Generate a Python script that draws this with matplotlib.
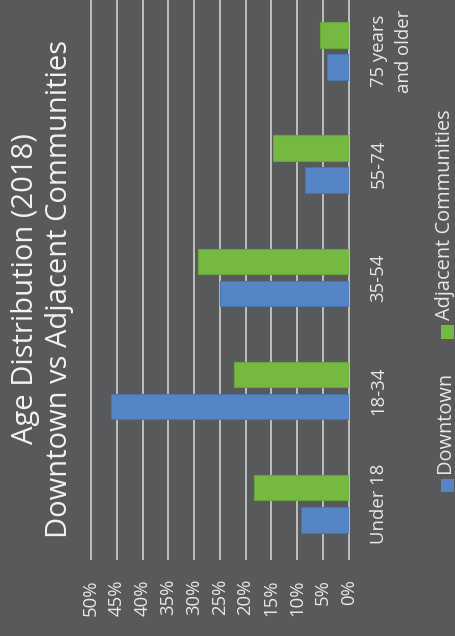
import matplotlib

matplotlib.use("Agg")
import matplotlib.pyplot as plt
import numpy as np
from matplotlib.patches import Rectangle

CATEGORIES = ["Under 18", "18-34", "35-54", "55-74", "75 years\nand older"]
DOWNTOWN = [9.2, 46.1, 25.0, 8.5, 4.2]
ADJACENT = [18.3, 22.3, 29.3, 14.6, 5.5]
SERIES_NAMES = ["Downtown", "Adjacent Communities"]
TICKS = list(range(0, 51, 5))
TITLE = "Age Distribution (2018)\nDowntown vs Adjacent Communities"

BG = "#58595b"
BLUE = "#5585c5"
GREEN = "#76b942"
GRID = "#d9d9d9"
TEXT = "#e8e8e8"

plt.rcParams["font.family"] = ["Open Sans", "DejaVu Sans"]

W, H = 456, 636


def fx(px):
    return px / W


def fy(py):
    # pixel from top -> figure fraction
    return (H - py) / H


fig = plt.figure(figsize=(W / 100, H / 100), dpi=100, facecolor=BG)
# the chart is drawn rotated: values run right-to-left, categories bottom-to-top
ax = fig.add_axes([fx(91), fy(560.3), fx(348.7 - 91), fy(0) - fy(560.3)])
ax.set_facecolor(BG)
for s in ax.spines.values():
    s.set_visible(False)

y = np.arange(len(CATEGORIES))
bar_h = 0.225
off = 0.142
ax.barh(y - off, DOWNTOWN, height=bar_h, color=BLUE, edgecolor="#4a74ad",
        linewidth=0.8, zorder=3)
ax.barh(y + off, ADJACENT, height=bar_h, color=GREEN, edgecolor="#68a53a",
        linewidth=0.8, zorder=3)

ax.set_xlim(50, 0)
ax.set_ylim(-0.5, 4.45)
ax.vlines(TICKS, -0.5, 4.45, color=GRID, linewidth=1.1, zorder=1, clip_on=False)

ax.set_xticks(TICKS)
ax.set_xticklabels([f"{t}%" for t in TICKS], rotation=90, color=TEXT, fontsize=13.3)
ax.tick_params(axis="x", length=0, pad=13.5)

ax.yaxis.tick_right()
ax.set_yticks(y)
ax.set_yticklabels(CATEGORIES, rotation=90, color=TEXT, fontsize=13.3,
                   va="center", ha="left", multialignment="center",
                   linespacing=1.5)
ax.tick_params(axis="y", length=0, pad=15)

fig.text(fx(42.7), fy(289), TITLE, rotation=90, ha="center", va="center",
         multialignment="center", color="#f2f2f2", fontsize=21, linespacing=1.2)

# legend, drawn by hand so it can be rotated with the chart
legend_items = [(SERIES_NAMES[0], BLUE, 485.3), (SERIES_NAMES[1], GREEN, 332)]
for name, color, cy in legend_items:
    fig.patches.append(Rectangle((fx(441), fy(cy + 6.5)), fx(13), fy(0) - fy(13),
                                 transform=fig.transFigure, facecolor=color,
                                 edgecolor="none"))
    fig.text(fx(445.5), fy(cy - 12), name, rotation=90, ha="center", va="bottom",
             color=TEXT, fontsize=14.4)

fig.savefig("out.png", dpi=100, facecolor=BG)
